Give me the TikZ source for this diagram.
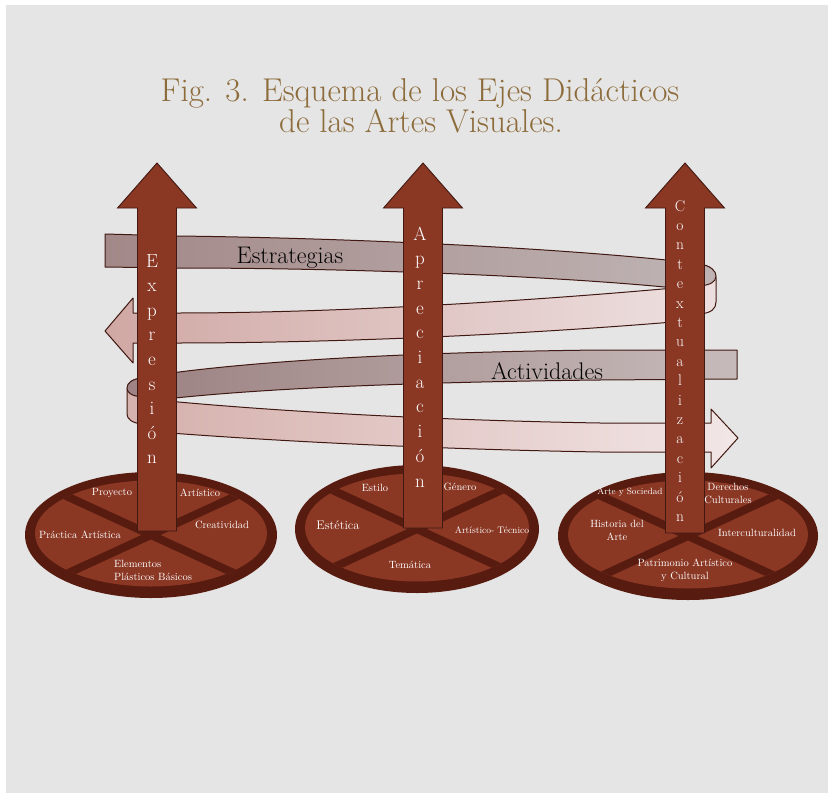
\documentclass[tikz,border=0pt]{standalone}
\usepackage{fontspec}
\usepackage{xcolor}
\definecolor{fondo}{RGB}{229,229,229}
\definecolor{titulo}{RGB}{141,108,60}
\definecolor{oxido}{RGB}{138,55,36}
\definecolor{oscuro}{RGB}{88,27,16}
\definecolor{contorno}{RGB}{65,25,18}
\definecolor{malvaA}{RGB}{163,136,136}
\definecolor{grisA}{RGB}{190,178,178}
\definecolor{rosaB}{RGB}{208,168,164}
\definecolor{claroB}{RGB}{236,222,222}
\definecolor{malvaC}{RGB}{158,132,132}
\definecolor{grisC}{RGB}{198,186,186}
\definecolor{rosaD}{RGB}{214,178,174}
\definecolor{claroD}{RGB}{242,230,230}
\tikzset{
  eje/.style={fill=oxido, draw=contorno, line width=0.9pt},
  cinta/.style={draw=contorno, line width=1pt, line join=round},
  letra/.style={text=white, anchor=base, inner sep=0pt, font=\fontsize{19}{19}\selectfont},
  letrachica/.style={letra, font=\fontsize{15.5}{15.5}\selectfont},
  rotulo/.style={text=white, inner sep=0pt, align=center, font=\fontsize{10.5}{13}\selectfont},
  etiqueta/.style={text=black, anchor=base, inner sep=0pt, font=\fontsize{24}{24}\selectfont},
  cabecera/.style={text=titulo, anchor=base, inner sep=0pt, font=\fontsize{33}{33}\selectfont}
}

\begin{document}
\begin{tikzpicture}[x=1pt,y=-1pt]
  \useasboundingbox (0,0) rectangle (828,795);
  \fill[white] (0,0) rectangle (828,795);
  \fill[fondo] (6,5) rectangle (828,793);

  % titulo
  \node[cabecera] (tit1) at (420,101) {Fig. 3. Esquema de los Ejes Didácticos};
  \node[cabecera] (tit2) at (421,132) {de las Artes Visuales.};

  % bases
  \foreach \cx/\cy/\rx/\ry in {151/535/126/63, 417/529/122/64, 688/536/130/64} {
    \fill[oscuro] (\cx,\cy) ellipse [x radius=\rx, y radius=\ry];
    \begin{scope}
      \clip (\cx,\cy-1.5) ellipse [x radius=\rx-10, y radius=\ry-10];
      \fill[oxido] (\cx-\rx,\cy-\ry) rectangle (\cx+\rx,\cy+\ry);
      \draw[oscuro, line width=8pt] (\cx-150,\cy-69) -- (\cx+150,\cy+69)
        (\cx-150,\cy+69) -- (\cx+150,\cy-69);
    \end{scope}
  }

  % cintas de atras
  \draw[cinta, left color=malvaA, right color=grisA] (105,234) -- (177,236)
    .. controls (350,238) and (560,248) .. (685,262) -- (685,289)
    .. controls (560,276) and (350,268) .. (177,268) -- (105,267) -- cycle;
  \draw[cinta, left color=malvaC, right color=grisC] (157,375)
    .. controls (260,360) and (420,352) .. (600,350) -- (737,350) -- (737,379)
    -- (600,380) .. controls (420,382) and (260,388) .. (157,400) -- cycle;

  % vueltas
  \draw[cinta, fill=claroB] (700,264) .. controls (711,266) and (716,271) .. (716,278)
    -- (716,302) .. controls (716,309) and (711,313) .. (700,314) -- cycle;
  \draw[cinta, fill=grisA] (700,264) .. controls (711,266) and (716,271) .. (716,276)
    .. controls (716,282) and (710,285) .. (700,286) -- cycle;
  \draw[cinta, fill=rosaD] (142,378) .. controls (132,379) and (127,383) .. (127,390)
    -- (127,414) .. controls (127,419) and (132,423) .. (142,424) -- cycle;
  \draw[cinta, fill=malvaC] (142,378) .. controls (132,379) and (127,383) .. (127,388)
    .. controls (127,393) and (132,396) .. (142,397) -- cycle;

  % cintas de delante
  \draw[cinta, left color=rosaB, right color=claroB] (685,287)
    .. controls (520,302) and (330,313) .. (177,313) -- (133,313) -- (133,298)
    -- (105,331) -- (133,363) -- (133,343) -- (177,343)
    .. controls (330,343) and (520,335) .. (685,321) -- cycle;
  \draw[cinta, left color=rosaD, right color=claroD] (157,400)
    .. controls (260,410) and (420,420) .. (600,423) -- (711,423) -- (711,409)
    -- (738,438) -- (711,468) -- (711,452) -- (600,452)
    .. controls (420,449) and (260,440) .. (157,432) -- cycle;

  \node[etiqueta] (estrategias) at (290,263) {Estrategias};
  \node[etiqueta] (actividades) at (547,379) {Actividades};

  % ejes
  \foreach \cx/\yb in {157/531, 423/528, 685/533}
    \draw[eje] (\cx-19.5,\yb) -- (\cx-19.5,208) -- (\cx-39.5,208) -- (\cx,163)
      -- (\cx+39.5,208) -- (\cx+19.5,208) -- (\cx+19.5,\yb) -- cycle;

  \foreach \l [count=\i from 0] in {E,x,p,r,e,s,i,ó,n}
    \node[letra] (exp\i) at (152,267+24.6*\i) {\l};
  \foreach \l [count=\i from 0] in {A,p,r,e,c,i,a,c,i,ó,n}
    \node[letra] (apr\i) at (420,240+24.7*\i) {\l};
  \foreach \l [count=\i from 0] in {C,o,n,t,e,x,t,u,a,l,i,z,a,c,i,ó,n}
    \node[letrachica] (con\i) at (680,211+19.4*\i) {\l};

  % rotulos de las bases
  \node[rotulo] (proyecto) at (112,493) {Proyecto};
  \node[rotulo] (artistico) at (200,493) {Artístico};
  \node[rotulo] (practica) at (80,535) {Práctica Artística};
  \node[rotulo] (creatividad) at (222,525) {Creatividad};
  \node[rotulo, align=left] (elementos) at (153,570) {Elementos\\Plásticos Básicos};

  \node[rotulo] (estilo) at (375,488) {Estilo};
  \node[rotulo] (genero) at (460,487) {Género};
  \node[rotulo, font=\fontsize{12.5}{14}\selectfont] (estetica) at (338,525) {Estética};
  \node[rotulo, font=\fontsize{9.5}{12}\selectfont] (tecnico) at (492,530) {Artístico- Técnico};
  \node[rotulo] (tematica) at (410,565) {Temática};

  \node[rotulo, font=\fontsize{9}{12}\selectfont] (sociedad) at (630,492) {Arte y Sociedad};
  \node[rotulo] (derechos) at (728,493) {Derechos\\Culturales};
  \node[rotulo] (historia) at (617,530) {Historia del\\Arte};
  \node[rotulo] (intercult) at (757,533) {Interculturalidad};
  \node[rotulo] (patrimonio) at (685,570) {Patrimonio Artístico\\y Cultural};
\end{tikzpicture}
\end{document}
